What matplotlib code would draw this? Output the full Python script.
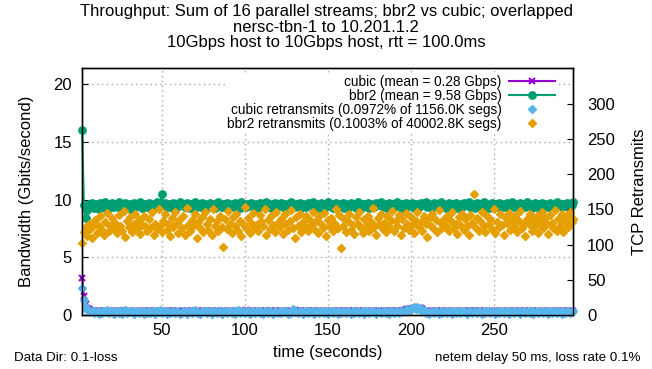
import numpy as np
import matplotlib
matplotlib.use('Agg')
import matplotlib.pyplot as plt

plt.rcParams['font.family'] = ['Liberation Sans', 'DejaVu Sans']

# time axis, one sample per second
t = np.arange(2, 299)

cubic_gbps = [
    3.25, 1.65, 0.95, 0.6, 0.48, 0.42, 0.38, 0.36, 0.34, 0.38, 0.33, 0.36, 0.32, 0.37, 0.34, 0.36, 0.31, 0.37, 0.35, 0.32,
    0.38, 0.34, 0.31, 0.36, 0.39, 0.33, 0.35, 0.37, 0.32, 0.34, 0.38, 0.35, 0.33, 0.36, 0.3, 0.37, 0.34, 0.39, 0.32, 0.35,
    0.36, 0.33, 0.38, 0.34, 0.31, 0.37, 0.35, 0.33, 0.39, 0.34, 0.36, 0.32, 0.38, 0.35, 0.33, 0.37, 0.34, 0.3, 0.36, 0.38,
    0.33, 0.35, 0.37, 0.32, 0.39, 0.34, 0.36, 0.33, 0.35, 0.38, 0.31, 0.36, 0.34, 0.37, 0.33, 0.39, 0.35, 0.32, 0.36, 0.34,
    0.38, 0.33, 0.35, 0.37, 0.31, 0.36, 0.34, 0.39, 0.32, 0.35, 0.37, 0.33, 0.36, 0.38, 0.34, 0.32, 0.37, 0.35, 0.33, 0.4,
    0.34, 0.36, 0.32, 0.38, 0.35, 0.33, 0.37, 0.34, 0.39, 0.31, 0.36, 0.35, 0.33, 0.38, 0.34, 0.37, 0.32, 0.36, 0.35, 0.39,
    0.33, 0.37, 0.34, 0.36, 0.32, 0.38, 0.35, 0.33, 0.42, 0.34, 0.36, 0.37, 0.32, 0.35, 0.38, 0.33, 0.36, 0.34, 0.39, 0.32,
    0.36, 0.34, 0.38, 0.33, 0.35, 0.37, 0.31, 0.36, 0.39, 0.34, 0.33, 0.37, 0.35, 0.32, 0.38, 0.34, 0.36, 0.33, 0.37, 0.35,
    0.32, 0.38, 0.34, 0.36, 0.33, 0.39, 0.35, 0.32, 0.37, 0.34, 0.36, 0.33, 0.38, 0.35, 0.31, 0.37, 0.34, 0.36, 0.33, 0.39,
    0.35, 0.33, 0.37, 0.34, 0.38, 0.32, 0.36, 0.35, 0.39, 0.33, 0.37, 0.34, 0.36, 0.38, 0.42, 0.46, 0.5, 0.48, 0.53, 0.56,
    0.6, 0.55, 0.62, 0.57, 0.64, 0.48, 0.38, 0.35, 0.33, 0.37, 0.34, 0.32, 0.36, 0.38, 0.33, 0.35, 0.37, 0.31, 0.36, 0.34,
    0.38, 0.33, 0.35, 0.37, 0.32, 0.39, 0.34, 0.36, 0.33, 0.38, 0.35, 0.32, 0.37, 0.34, 0.36, 0.33, 0.39, 0.35, 0.31, 0.37,
    0.34, 0.36, 0.33, 0.38, 0.35, 0.32, 0.37, 0.34, 0.39, 0.33, 0.36, 0.35, 0.38, 0.32, 0.34, 0.37, 0.33, 0.36, 0.35, 0.38,
    0.33, 0.37, 0.34, 0.36, 0.32, 0.38, 0.35, 0.33, 0.37, 0.34, 0.39, 0.32, 0.36, 0.35, 0.33, 0.38, 0.34, 0.37, 0.32, 0.36,
    0.35, 0.33, 0.38, 0.34, 0.36, 0.32, 0.37, 0.35, 0.33, 0.39, 0.34, 0.36, 0.32, 0.38, 0.35, 0.33, 0.37,
]

bbr2_gbps = [
    16.0, 9.5, 8.4, 9.1, 9.6, 9.4, 9.7, 9.3, 9.5, 9.6, 9.2, 9.7, 9.5, 9.4, 9.8, 9.6, 9.3, 9.5, 9.7, 9.4,
    9.6, 9.5, 9.8, 9.3, 9.6, 9.4, 9.7, 9.5, 9.6, 9.2, 9.5, 9.7, 9.4, 9.6, 9.5, 9.8, 9.3, 9.6, 9.5, 9.4,
    9.7, 9.5, 9.6, 9.3, 9.5, 9.8, 9.4, 9.6, 10.5, 9.5, 9.7, 9.4, 9.6, 9.5, 9.3, 9.7, 9.6, 9.4, 9.5, 9.8,
    9.5, 9.6, 9.4, 9.7, 9.5, 9.3, 9.6, 9.5, 9.8, 9.4, 9.6, 9.5, 9.7, 9.3, 9.6, 9.5, 9.4, 9.7, 9.6, 9.5,
    9.3, 9.6, 9.8, 9.5, 9.4, 9.6, 9.5, 9.7, 9.2, 9.6, 9.5, 9.4, 9.7, 9.6, 9.5, 9.3, 9.8, 9.5, 9.6, 9.4,
    9.6, 9.5, 9.7, 9.4, 9.5, 9.6, 9.3, 9.7, 9.5, 9.6, 9.4, 9.8, 9.5, 9.6, 9.3, 9.5, 9.7, 9.4, 9.6, 9.5,
    9.7, 9.4, 9.6, 9.5, 9.3, 9.6, 9.8, 9.5, 9.4, 9.6, 9.5, 9.7, 9.3, 9.6, 9.5, 9.4, 9.7, 9.6, 9.5, 9.8,
    9.4, 9.6, 9.5, 9.3, 9.7, 9.5, 9.6, 9.4, 9.8, 9.5, 9.6, 9.3, 9.5, 9.7, 9.4, 9.6, 9.5, 9.7, 9.3, 9.6,
    9.5, 9.4, 9.7, 9.6, 9.5, 9.3, 9.8, 9.5, 9.6, 9.4, 9.6, 9.5, 9.7, 9.3, 9.6, 9.5, 9.4, 9.7, 9.6, 9.5,
    9.8, 9.4, 9.6, 9.5, 9.3, 9.7, 9.5, 9.6, 9.4, 9.6, 9.8, 9.5, 9.3, 9.6, 9.5, 9.7, 9.4, 9.6, 9.5, 9.7,
    9.3, 9.6, 9.5, 9.4, 9.7, 9.6, 9.5, 9.8, 9.4, 9.6, 9.5, 9.3, 9.7, 9.5, 9.6, 9.4, 9.8, 9.5, 9.6, 9.3,
    9.5, 9.7, 9.4, 9.6, 9.5, 9.7, 9.3, 9.6, 9.5, 9.4, 9.7, 9.6, 9.5, 9.8, 9.4, 9.6, 9.5, 9.3, 9.7, 9.5,
    9.6, 9.4, 9.8, 9.5, 9.6, 9.3, 9.5, 9.7, 9.4, 9.6, 9.5, 9.7, 9.3, 9.6, 9.5, 9.4, 9.7, 9.6, 9.5, 9.8,
    9.4, 9.6, 9.5, 9.3, 9.7, 9.5, 9.6, 9.4, 9.8, 9.5, 9.6, 9.3, 9.5, 9.7, 9.4, 9.6, 9.5, 9.7, 9.3, 9.6,
    9.5, 9.4, 9.7, 9.6, 9.5, 9.3, 9.8, 9.5, 9.6, 9.4, 9.6, 9.5, 9.7, 9.4, 9.6, 9.5, 9.8,
]

cubic_retrans = [
    39, 22, 12, 7, 5, 4, 6, 3, 5, 4, 2, 6, 3, 5, 4, 7, 3, 4, 5, 2,
    4, 6, 3, 5, 2, 4, 7, 3, 5, 4, 6, 2, 4, 5, 3, 6, 4, 2, 5, 3,
    5, 3, 4, 6, 2, 5, 4, 7, 3, 4, 5, 2, 6, 3, 4, 5, 3, 6, 4, 2,
    3, 5, 4, 2, 6, 4, 3, 5, 7, 3, 4, 2, 5, 4, 6, 3, 5, 4, 2, 6,
    4, 3, 5, 6, 2, 4, 5, 3, 4, 6, 3, 5, 2, 4, 7, 3, 4, 5, 3, 4,
    6, 2, 4, 5, 3, 4, 6, 3, 5, 2, 4, 5, 3, 6, 4, 2, 5, 4, 3, 5,
    3, 5, 4, 6, 2, 4, 3, 8, 4, 5, 3, 4, 6, 2, 5, 4, 3, 5, 4, 6,
    2, 4, 5, 3, 6, 4, 3, 5, 2, 4, 6, 3, 5, 4, 2, 5, 3, 4, 6, 3,
    5, 4, 2, 6, 3, 4, 5, 3, 4, 6, 2, 5, 4, 3, 5, 4, 6, 2, 4, 5,
    3, 4, 6, 3, 5, 2, 4, 5, 3, 4, 6, 3, 5, 4, 6, 7, 8, 6, 9, 10,
    11, 9, 12, 8, 10, 6, 4, 3, 5, 2, 4, 5, 3, 6, 4, 2, 5, 3, 4, 6,
    3, 5, 4, 2, 6, 3, 5, 4, 3, 5, 4, 6, 2, 4, 5, 3, 4, 6, 3, 5,
    4, 2, 5, 3, 6, 4, 3, 5, 4, 2, 6, 3, 4, 5, 3, 4, 6, 2, 5, 4,
    3, 5, 4, 6, 2, 4, 5, 3, 4, 6, 3, 5, 2, 4, 5, 3, 6, 4, 3, 5,
    4, 2, 5, 3, 6, 4, 3, 5, 4, 2, 5, 3, 4, 6, 3, 4, 5,
]

bbr2_retrans = [
    103, 118, 125, 112, 130, 122, 109, 128, 135, 117, 126, 140, 121, 113, 132, 145, 119, 127, 138, 124,
    131, 116, 142, 127, 120, 148, 111, 133, 125, 139, 118, 129, 144, 122, 135, 115, 128, 141, 126, 119,
    137, 124, 146, 113, 130, 122, 150, 127, 118, 134, 143, 121, 129, 112, 138, 125, 147, 131, 117, 136,
    123, 140, 114, 152, 128, 120, 135, 126, 143, 110, 132, 124, 139, 118, 146, 129, 121, 137, 113, 150,
    127, 133, 119, 141, 125, 96, 136, 122, 148, 130, 116, 139, 127, 144, 120, 134, 112, 129, 153, 123,
    138, 117, 131, 145, 124, 128, 119, 142, 133, 126, 151, 114, 135, 122, 140, 128, 118, 146, 131, 125,
    137, 115, 143, 129, 121, 134, 149, 123, 110, 139, 127, 144, 118, 132, 125, 141, 120, 136, 128, 147,
    122, 133, 116, 140, 129, 124, 145, 112, 135, 127, 138, 119, 131, 150, 123, 142, 95, 126, 137, 118,
    134, 143, 121, 128, 115, 139, 130, 146, 124, 117, 136, 127, 141, 120, 132, 152, 125, 113, 138, 129,
    144, 122, 131, 118, 140, 126, 135, 148, 119, 133, 127, 142, 114, 137, 124, 145, 130, 121, 139, 128,
    116, 134, 147, 125, 132, 120, 141, 129, 111, 138, 126, 143, 122, 135, 118, 149, 131, 124, 137, 127,
    140, 119, 133, 146, 123, 130, 115, 139, 128, 144, 121, 136, 126, 113, 142, 131, 172, 125, 138, 120,
    134, 147, 127, 118, 141, 129, 136, 122, 150, 117, 132, 125, 143, 128, 114, 139, 131, 145, 121, 135,
    126, 140, 118, 133, 148, 124, 130, 112, 137, 129, 144, 120, 135, 127, 141, 116, 132, 146, 123, 138,
    129, 115, 142, 131, 124, 149, 120, 136, 127, 143, 118, 134, 140, 125, 147, 132, 137,
]

labels = ['cubic (mean = 0.28 Gbps)', 'bbr2 (mean = 9.58 Gbps)',
          'cubic retransmits (0.0972% of 1156.0K segs)',
          'bbr2 retransmits (0.1003% of 40002.8K segs)']

fig = plt.figure(figsize=(6.52, 3.69), dpi=100)
ax = fig.add_axes([0.1253, 0.1463, 0.7540, 0.6694])
ax2 = ax.twinx()

l1, = ax.plot(t, cubic_gbps, color='#9400d3', lw=1.5, marker='x', ms=5, mew=1.5,
              label=labels[0], clip_on=False, zorder=3)
l2, = ax.plot(t, bbr2_gbps, color='#009e73', lw=1.5, marker='o', ms=5.3,
              label=labels[1], clip_on=False, zorder=4)
l3, = ax2.plot(t, cubic_retrans, ls='none', color='#56b4e9', marker='D', ms=4,
               label=labels[2], clip_on=False)
l4, = ax2.plot(t, bbr2_retrans, ls='none', color='#e69f00', marker='D', ms=4,
               label=labels[3], clip_on=False)

ax.set_xlim(1.7, 298)
ax.set_ylim(0, 21.4)
ax2.set_ylim(0, 351)
ax.set_xticks([50, 100, 150, 200, 250])
ax.set_yticks([0, 5, 10, 15, 20])
ax2.set_yticks([0, 50, 100, 150, 200, 250, 300])

ax.grid(True, color='#a8a8a8', linestyle=(0, (1, 2.5)), lw=1)
ax.tick_params(direction='in', length=4, labelsize=12, pad=7)
ax.tick_params(axis='x', pad=6)
ax2.tick_params(direction='in', length=4, labelsize=12, pad=10)
for s in ax.spines.values():
    s.set_linewidth(1)
for s in ax2.spines.values():
    s.set_linewidth(1)

ax.set_xlabel('time (seconds)', fontsize=12, labelpad=5)
ax.set_ylabel('Bandwidth (Gbits/second)', fontsize=12, labelpad=14)
ax2.set_ylabel('TCP Retransmits', fontsize=12, labelpad=12)

fig.text(0.5, 0.988, 'Throughput: Sum of 16 parallel streams; bbr2 vs cubic; overlapped\n'
         'nersc-tbn-1 to 10.201.1.2\n10Gbps host to 10Gbps host, rtt = 100.0ms',
         ha='center', va='top', fontsize=12, linespacing=1.03)
fig.text(0.022, 0.03, 'Data Dir: 0.1-loss', fontsize=9.6, va='center')
fig.text(0.982, 0.03, 'netem delay 50 ms, loss rate 0.1%', fontsize=9.6, ha='right', va='center')

leg = ax2.legend(handles=[l1, l2, l3, l4], loc='upper right', bbox_to_anchor=(0.853, 0.800),
                 bbox_transform=fig.transFigure, markerfirst=False, fontsize=9.8,
                 handlelength=3.4, handletextpad=0.5, labelspacing=0.0, borderpad=0.1,
                 borderaxespad=0, frameon=True, fancybox=False, framealpha=1,
                 edgecolor='none')

fig.savefig('out.png', dpi=100)
